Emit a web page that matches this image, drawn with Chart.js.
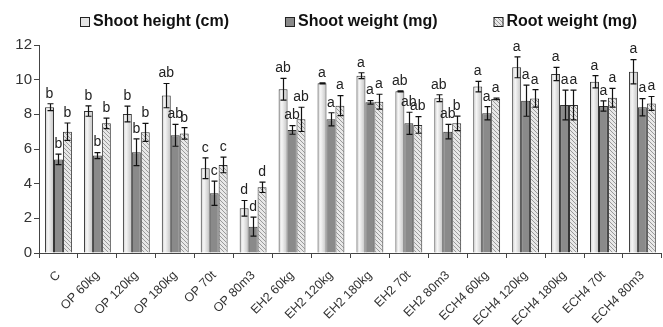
<!DOCTYPE html>
<html>
<head>
<meta charset="utf-8">
<script src="https://cdn.jsdelivr.net/npm/chart.js@4.4.1/dist/chart.umd.min.js"></script>
<style>
html, body { margin: 0; padding: 0; background: #fff; }
#wrap { width: 663px; height: 327px; position: relative; }
</style>
</head>
<body>
<div id="wrap"><canvas id="canvas"></canvas></div>
<script>
//data
var categories = ["C", "OP 60kg", "OP 120kg", "OP 180kg", "OP 70t", "OP 80m3",
    "EH2 60kg", "EH2 120kg", "EH2 180kg", "EH2 70t", "EH2 80m3",
    "ECH4 60kg", "ECH4 120kg", "ECH4 180kg", "ECH4 70t", "ECH4 80m3"];
var seriesNames = ["Shoot height (cm)", "Shoot weight (mg)", "Root weight (mg)"];

var shootHeight    = [8.41, 8.19, 8.02, 9.08, 4.89, 2.58, 9.45, 9.79, 10.23, 9.33, 8.93, 9.60, 10.71, 10.33, 9.88, 10.46];
var shootHeightErr = [0.20, 0.30, 0.45, 0.70, 0.60, 0.45, 0.63, 0.03, 0.17, 0.03, 0.20, 0.30, 0.60, 0.38, 0.35, 0.70];
var shootWeight    = [5.40, 5.62, 5.81, 6.79, 3.45, 1.52, 7.10, 7.71, 8.69, 7.48, 7.00, 8.06, 8.79, 8.54, 8.48, 8.41];
var shootWeightErr = [0.30, 0.17, 0.77, 0.63, 0.70, 0.55, 0.25, 0.38, 0.10, 0.64, 0.42, 0.38, 0.90, 0.86, 0.30, 0.50];
var rootWeight     = [7.00, 7.48, 6.96, 6.90, 5.08, 3.79, 7.71, 8.50, 8.73, 7.39, 7.48, 8.89, 8.92, 8.54, 8.96, 8.63];
var rootWeightErr  = [0.50, 0.30, 0.52, 0.33, 0.45, 0.30, 0.70, 0.58, 0.43, 0.48, 0.42, 0.05, 0.50, 0.86, 0.54, 0.40];

var shootHeightLetters = ["b", "b", "b", "ab", "c", "d", "ab", "a", "a", "ab", "ab", "a", "a", "a", "a", "a"];
var shootWeightLetters = ["b", "b", "b", "ab", "c", "d", "ab", "a", "a", "ab", "ab", "a", "a", "a", "a", "a"];
var rootWeightLetters  = ["b", "b", "b", "b", "c", "d", "ab", "a", "a", "ab", "b", "a", "a", "a", "a", "a"];

var yTicks = [0, 2, 4, 6, 8, 10, 12];

var errors = [shootHeightErr, shootWeightErr, rootWeightErr];
var letters = [shootHeightLetters, shootWeightLetters, rootWeightLetters];

var CAT_PCT = 0.69;
var FONT = "'Liberation Sans', Arial, sans-serif";

//hatch for root weight
function makeHatch() {
    var c = document.createElement('canvas');
    c.width = 4; c.height = 4;
    var g = c.getContext('2d');
    g.fillStyle = '#e8e8e8';
    g.fillRect(0, 0, 4, 4);
    g.strokeStyle = '#9a9a9a';
    g.lineWidth = 1;
    g.beginPath();
    g.moveTo(0, 0); g.lineTo(4, 4);
    g.moveTo(-1, 3); g.lineTo(1, 5);
    g.moveTo(3, -1); g.lineTo(5, 1);
    g.stroke();
    return g.createPattern(c, 'repeat');
}
var hatch = makeHatch();

function lightGradient(ctx2d, left, w) {
    var gr = ctx2d.createLinearGradient(left, 0, left + w, 0);
    gr.addColorStop(0, '#cdcdcd');
    gr.addColorStop(0.35, '#f6f6f6');
    gr.addColorStop(1, '#c2c2c2');
    return gr;
}

//scriptable fill: bar left edge from the category scale
function shootHeightFill(context) {
    var chart = context.chart;
    var xs = chart.scales.x;
    if (!xs || !chart.chartArea) return '#dcdcdc';
    var w = xs.width / categories.length * CAT_PCT / 3;
    var left = xs.getPixelForValue(context.dataIndex) - 1.5 * w;
    return lightGradient(chart.ctx, left, w);
}

var errorBarPlugin = {
    id: 'errorBars',
    afterDatasetsDraw: function (chart) {
        var ctx = chart.ctx;
        var ys = chart.scales.y;
        ctx.save();
        ctx.strokeStyle = '#111';
        ctx.lineWidth = 1.2;
        ctx.fillStyle = '#222';
        ctx.font = '14px ' + FONT;
        ctx.textAlign = 'center';
        ctx.textBaseline = 'bottom';
        chart.data.datasets.forEach(function (ds, i) {
            var meta = chart.getDatasetMeta(i);
            meta.data.forEach(function (el, j) {
                var v = ds.data[j], e = errors[i][j];
                var top = ys.getPixelForValue(v + e);
                var bot = ys.getPixelForValue(v - e);
                var x = Math.round(el.x) + 0.5;
                ctx.beginPath();
                ctx.moveTo(x, top); ctx.lineTo(x, bot);
                ctx.moveTo(x - 3, top); ctx.lineTo(x + 3, top);
                ctx.moveTo(x - 3, bot); ctx.lineTo(x + 3, bot);
                ctx.stroke();
                ctx.fillText(letters[i][j], el.x, top - 3);
            });
        });
        ctx.restore();
    }
};

var legendPlugin = {
    id: 'topLegend',
    afterDraw: function (chart) {
        var ctx = chart.ctx;
        var fills = ['#e4e4e4', '#8a8a8a', hatch];
        var x = 80;
        ctx.save();
        ctx.font = 'bold 16px ' + FONT;
        ctx.textBaseline = 'middle';
        ctx.textAlign = 'left';
        seriesNames.forEach(function (name, i) {
            ctx.fillStyle = fills[i];
            ctx.fillRect(x, 17, 10, 10);
            ctx.strokeStyle = '#222';
            ctx.lineWidth = 1;
            ctx.strokeRect(x + 0.5, 17.5, 9, 9);
            ctx.fillStyle = '#111';
            ctx.fillText(name, x + 13, 22);
            x += 13 + ctx.measureText(name).width + 56;
        });
        ctx.restore();
    }
};

window.onload = function () {
    var ctx = document.getElementById('canvas').getContext('2d');
    var config = {
        type: 'bar',
        data: {
            labels: categories,
            datasets: [
                { label: seriesNames[0], data: shootHeight, backgroundColor: shootHeightFill, borderColor: '#333', borderWidth: 1 },
                { label: seriesNames[1], data: shootWeight, backgroundColor: '#8a8a8a', borderColor: '#333', borderWidth: 1 },
                { label: seriesNames[2], data: rootWeight, backgroundColor: hatch, borderColor: '#333', borderWidth: 1 }
            ]
        },
        options: {
            responsive: true,
            maintainAspectRatio: false,
            animation: false,
            datasets: { bar: { categoryPercentage: CAT_PCT, barPercentage: 1 } },
            layout: { padding: { top: 45, right: 0, left: 0, bottom: 0 } },
            plugins: { legend: { display: false }, tooltip: { enabled: false } },
            scales: {
                x: {
                    grid: { display: true, drawOnChartArea: false, drawTicks: true, tickLength: 5, color: '#444', offset: true },
                    border: { display: true, color: '#444', width: 1 },
                    ticks: { autoSkip: false, minRotation: 45, maxRotation: 45, color: '#333', font: { family: FONT, size: 12.5 }, padding: 10 },
                    afterFit: function (scale) { scale.height = 74; }
                },
                y: {
                    min: 0, max: 12,
                    afterBuildTicks: function (scale) { scale.ticks = yTicks.map(function (v) { return { value: v }; }); },
                    grid: { display: true, drawOnChartArea: false, drawTicks: true, tickLength: 5, color: '#444' },
                    border: { display: true, color: '#444', width: 1 },
                    ticks: { color: '#333', font: { family: FONT, size: 15 }, padding: 2 },
                    afterFit: function (scale) { scale.width = 39; }
                }
            }
        },
        plugins: [errorBarPlugin, legendPlugin]
    };
    window.myChart = new Chart(ctx, config);
};
</script>
</body>
</html>
